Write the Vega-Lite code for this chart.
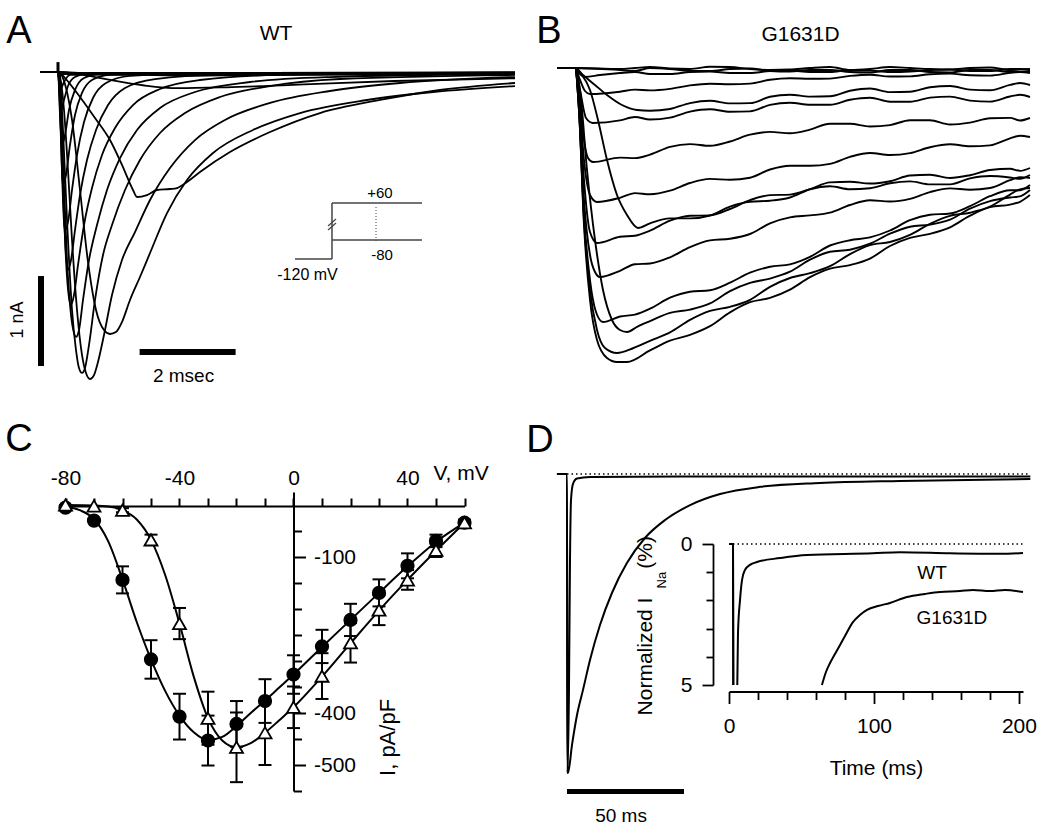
{
"$schema": "https://vega.github.io/schema/vega-lite/v6.json",
"width": 1050, "height": 831, "autosize": {"type": "none"}, "padding": 0, "background": "white",
"config": {"view": {"stroke": null}, "axis": {"grid": false, "labelFont": "Liberation Sans", "titleFont": "Liberation Sans", "labelColor": "black", "titleColor": "black", "domainColor": "black", "tickColor": "black"}, "text": {"font": "Liberation Sans", "color": "black"}},
"datasets": {
"wt": [
{"v":60,"t":-0.375,"I":0},{"v":60,"t":0,"I":0},{"v":60,"t":0.042,"I":-0.044},{"v":60,"t":0.104,"I":-0.022},{"v":60,"t":9.521,"I":-0.006},
{"v":50,"t":-0.375,"I":0},{"v":50,"t":0,"I":0},{"v":50,"t":0.031,"I":-0.144},{"v":50,"t":0.0625,"I":-0.178},{"v":50,"t":0.125,"I":-0.111},{"v":50,"t":0.25,"I":-0.033},{"v":50,"t":9.521,"I":-0.006},
{"v":40,"t":-0.375,"I":0},{"v":40,"t":0,"I":0},{"v":40,"t":0.042,"I":-0.311},{"v":40,"t":0.0625,"I":-0.422},{"v":40,"t":0.125,"I":-0.311},{"v":40,"t":0.208,"I":-0.156},{"v":40,"t":0.354,"I":-0.056},{"v":40,"t":0.667,"I":-0.011},{"v":40,"t":9.521,"I":-0.006},
{"v":30,"t":-0.375,"I":0},{"v":30,"t":0,"I":0},{"v":30,"t":0.042,"I":-0.478},{"v":30,"t":0.083,"I":-0.811},{"v":30,"t":0.146,"I":-0.7},{"v":30,"t":0.229,"I":-0.422},{"v":30,"t":0.354,"I":-0.2},{"v":30,"t":0.542,"I":-0.067},{"v":30,"t":0.875,"I":-0.022},{"v":30,"t":9.521,"I":-0.006},
{"v":20,"t":-0.375,"I":0},{"v":20,"t":0,"I":0},{"v":20,"t":0.042,"I":-0.422},{"v":20,"t":0.083,"I":-1.089},{"v":20,"t":0.104,"I":-1.256},{"v":20,"t":0.167,"I":-1.144},{"v":20,"t":0.25,"I":-0.811},{"v":20,"t":0.354,"I":-0.478},{"v":20,"t":0.5,"I":-0.233},{"v":20,"t":0.708,"I":-0.089},{"v":20,"t":1.083,"I":-0.033},{"v":20,"t":2.958,"I":-0.011},{"v":20,"t":9.521,"I":-0.006},
{"v":10,"t":-0.375,"I":0},{"v":10,"t":0,"I":0},{"v":10,"t":0.042,"I":-0.311},{"v":10,"t":0.083,"I":-1.089},{"v":10,"t":0.125,"I":-1.667},{"v":10,"t":0.146,"I":-1.756},{"v":10,"t":0.208,"I":-1.667},{"v":10,"t":0.292,"I":-1.311},{"v":10,"t":0.396,"I":-0.922},{"v":10,"t":0.542,"I":-0.556},{"v":10,"t":0.729,"I":-0.289},{"v":10,"t":1.0,"I":-0.122},{"v":10,"t":1.5,"I":-0.044},{"v":10,"t":2.958,"I":-0.011},{"v":10,"t":9.521,"I":-0.006},
{"v":0,"t":-0.375,"I":0},{"v":0,"t":0,"I":0},{"v":0,"t":0.042,"I":-0.256},{"v":0,"t":0.104,"I":-1.311},{"v":0,"t":0.167,"I":-2.033},{"v":0,"t":0.208,"I":-2.2},{"v":0,"t":0.271,"I":-2.089},{"v":0,"t":0.354,"I":-1.756},{"v":0,"t":0.458,"I":-1.367},{"v":0,"t":0.604,"I":-0.978},{"v":0,"t":0.792,"I":-0.644},{"v":0,"t":1.042,"I":-0.367},{"v":0,"t":1.396,"I":-0.178},{"v":0,"t":2.021,"I":-0.078},{"v":0,"t":3.375,"I":-0.033},{"v":0,"t":9.521,"I":-0.011},
{"v":-10,"t":-0.375,"I":0},{"v":-10,"t":0,"I":0},{"v":-10,"t":0.042,"I":-0.2},{"v":-10,"t":0.104,"I":-1.2},{"v":-10,"t":0.167,"I":-2.089},{"v":-10,"t":0.229,"I":-2.511},{"v":-10,"t":0.271,"I":-2.589},{"v":-10,"t":0.333,"I":-2.478},{"v":-10,"t":0.417,"I":-2.144},{"v":-10,"t":0.542,"I":-1.7},{"v":-10,"t":0.708,"I":-1.289},{"v":-10,"t":0.917,"I":-0.922},{"v":-10,"t":1.1875,"I":-0.622},{"v":-10,"t":1.5625,"I":-0.367},{"v":-10,"t":2.125,"I":-0.189},{"v":-10,"t":2.958,"I":-0.089},{"v":-10,"t":4.625,"I":-0.033},{"v":-10,"t":9.521,"I":-0.011},
{"v":-20,"t":-0.375,"I":0},{"v":-20,"t":0,"I":0},{"v":-20,"t":0.042,"I":-0.144},{"v":-20,"t":0.104,"I":-0.978},{"v":-20,"t":0.1875,"I":-2.089},{"v":-20,"t":0.271,"I":-2.7},{"v":-20,"t":0.333,"I":-2.9},{"v":-20,"t":0.375,"I":-2.944},{"v":-20,"t":0.4375,"I":-2.867},{"v":-20,"t":0.521,"I":-2.533},{"v":-20,"t":0.646,"I":-2.089},{"v":-20,"t":0.8125,"I":-1.7},{"v":-20,"t":1.021,"I":-1.311},{"v":-20,"t":1.292,"I":-0.956},{"v":-20,"t":1.646,"I":-0.644},{"v":-20,"t":2.125,"I":-0.4},{"v":-20,"t":2.854,"I":-0.222},{"v":-20,"t":4.0,"I":-0.111},{"v":-20,"t":5.667,"I":-0.056},{"v":-20,"t":9.521,"I":-0.022},
{"v":-30,"t":-0.375,"I":0},{"v":-30,"t":0,"I":0},{"v":-30,"t":0.042,"I":-0.089},{"v":-30,"t":0.104,"I":-0.644},{"v":-30,"t":0.1875,"I":-1.644},{"v":-30,"t":0.292,"I":-2.644},{"v":-30,"t":0.375,"I":-3.089},{"v":-30,"t":0.4375,"I":-3.289},{"v":-30,"t":0.5,"I":-3.344},{"v":-30,"t":0.5625,"I":-3.289},{"v":-30,"t":0.646,"I":-3.033},{"v":-30,"t":0.771,"I":-2.533},{"v":-30,"t":0.9375,"I":-2.033},{"v":-30,"t":1.125,"I":-1.7},{"v":-30,"t":1.396,"I":-1.311},{"v":-30,"t":1.708,"I":-0.978},{"v":-30,"t":2.125,"I":-0.678},{"v":-30,"t":2.646,"I":-0.456},{"v":-30,"t":3.375,"I":-0.278},{"v":-30,"t":4.417,"I":-0.156},{"v":-30,"t":5.875,"I":-0.078},{"v":-30,"t":9.521,"I":-0.033},
{"v":-40,"t":-0.375,"I":0},{"v":-40,"t":0,"I":0},{"v":-40,"t":0.0625,"I":-0.111},{"v":-40,"t":0.125,"I":-0.422},{"v":-40,"t":0.208,"I":-1.089},{"v":-40,"t":0.292,"I":-1.867},{"v":-40,"t":0.396,"I":-2.644},{"v":-40,"t":0.5,"I":-3.144},{"v":-40,"t":0.583,"I":-3.344},{"v":-40,"t":0.667,"I":-3.411},{"v":-40,"t":0.75,"I":-3.367},{"v":-40,"t":0.833,"I":-3.222},{"v":-40,"t":0.958,"I":-2.922},{"v":-40,"t":1.125,"I":-2.478},{"v":-40,"t":1.333,"I":-2.089},{"v":-40,"t":1.604,"I":-1.778},{"v":-40,"t":1.917,"I":-1.422},{"v":-40,"t":2.333,"I":-1.067},{"v":-40,"t":2.854,"I":-0.756},{"v":-40,"t":3.479,"I":-0.533},{"v":-40,"t":4.417,"I":-0.344},{"v":-40,"t":5.667,"I":-0.211},{"v":-40,"t":7.125,"I":-0.122},{"v":-40,"t":9.521,"I":-0.056},
{"v":-50,"t":-0.375,"I":0},{"v":-50,"t":0,"I":0},{"v":-50,"t":0.083,"I":-0.044},{"v":-50,"t":0.167,"I":-0.178},{"v":-50,"t":0.292,"I":-0.533},{"v":-50,"t":0.458,"I":-1.311},{"v":-50,"t":0.625,"I":-2.111},{"v":-50,"t":0.792,"I":-2.644},{"v":-50,"t":0.958,"I":-2.867},{"v":-50,"t":1.083,"I":-2.911},{"v":-50,"t":1.208,"I":-2.889},{"v":-50,"t":1.333,"I":-2.778},{"v":-50,"t":1.5,"I":-2.533},{"v":-50,"t":1.708,"I":-2.278},{"v":-50,"t":1.917,"I":-2.011},{"v":-50,"t":2.271,"I":-1.567},{"v":-50,"t":2.6875,"I":-1.2},{"v":-50,"t":3.229,"I":-0.9},{"v":-50,"t":4.0625,"I":-0.644},{"v":-50,"t":5.042,"I":-0.456},{"v":-50,"t":6.4375,"I":-0.311},{"v":-50,"t":7.8125,"I":-0.222},{"v":-50,"t":9.521,"I":-0.156},
{"v":-60,"t":-0.375,"I":0},{"v":-60,"t":0,"I":0},{"v":-60,"t":0.146,"I":-0.067},{"v":-60,"t":0.396,"I":-0.233},{"v":-60,"t":0.771,"I":-0.511},{"v":-60,"t":1.083,"I":-0.756},{"v":-60,"t":1.333,"I":-1.033},{"v":-60,"t":1.5625,"I":-1.311},{"v":-60,"t":1.646,"I":-1.389},{"v":-60,"t":1.854,"I":-1.367},{"v":-60,"t":2.0625,"I":-1.311},{"v":-60,"t":2.333,"I":-1.3},{"v":-60,"t":2.479,"I":-1.289},{"v":-60,"t":2.6875,"I":-1.222},{"v":-60,"t":2.958,"I":-1.111},{"v":-60,"t":3.583,"I":-0.889},{"v":-60,"t":4.417,"I":-0.667},{"v":-60,"t":5.458,"I":-0.456},{"v":-60,"t":6.708,"I":-0.311},{"v":-60,"t":7.958,"I":-0.2},{"v":-60,"t":9.521,"I":-0.122},
{"v":-70,"t":-0.375,"I":0},{"v":-70,"t":0,"I":0},{"v":-70,"t":0.5,"I":-0.03},{"v":-70,"t":1.0,"I":-0.08},{"v":-70,"t":1.8,"I":-0.15},{"v":-70,"t":2.5,"I":-0.18},{"v":-70,"t":3.5,"I":-0.17},{"v":-70,"t":5.0,"I":-0.14},{"v":-70,"t":7.0,"I":-0.1},{"v":-70,"t":9.521,"I":-0.07},
{"v":-80,"t":-0.375,"I":0},{"v":-80,"t":0,"I":0},{"v":-80,"t":0.5,"I":-0.01},{"v":-80,"t":1.5,"I":-0.03},{"v":-80,"t":3.0,"I":-0.04},{"v":-80,"t":5.0,"I":-0.03},{"v":-80,"t":9.521,"I":-0.02}
],
"mut": [
{"v":60,"t":-0.36,"I":0},{"v":60,"t":0,"I":0},{"v":60,"t":0.9,"I":-0.01},{"v":60,"t":1.5,"I":0.01},{"v":60,"t":2.3,"I":-0.01},{"v":60,"t":3.1,"I":0.01},{"v":60,"t":3.9,"I":-0.02},{"v":60,"t":4.7,"I":0},{"v":60,"t":5.5,"I":-0.02},{"v":60,"t":6.3,"I":0.01},{"v":60,"t":7.1,"I":-0.01},{"v":60,"t":7.9,"I":0},{"v":60,"t":8.7,"I":-0.02},{"v":60,"t":9.1,"I":-0.01},
{"v":60,"t":1.2,"I":0},{"v":60,"t":1.9,"I":-0.005},{"v":60,"t":2.7,"I":0.012},{"v":60,"t":3.5,"I":-0.01},{"v":60,"t":4.3,"I":-0.015},{"v":60,"t":5.1,"I":0.01},{"v":60,"t":5.9,"I":-0.01},{"v":60,"t":6.7,"I":0},{"v":60,"t":7.5,"I":-0.015},{"v":60,"t":8.3,"I":0.005},{"v":60,"t":8.9,"I":-0.015},
{"v":-80,"t":-0.36,"I":0},{"v":-80,"t":0,"I":0},{"v":-80,"t":0.9,"I":-0.02},{"v":-80,"t":1.5,"I":0},{"v":-80,"t":2.3,"I":-0.03},{"v":-80,"t":3.1,"I":-0.01},{"v":-80,"t":3.9,"I":-0.03},{"v":-80,"t":4.7,"I":-0.02},{"v":-80,"t":5.5,"I":-0.04},{"v":-80,"t":6.3,"I":-0.02},{"v":-80,"t":7.1,"I":-0.04},{"v":-80,"t":7.9,"I":-0.02},{"v":-80,"t":8.7,"I":-0.04},{"v":-80,"t":9.1,"I":-0.03},
{"v":-80,"t":1.2,"I":-0.03},{"v":-80,"t":1.9,"I":-0.01},{"v":-80,"t":2.7,"I":-0.03},{"v":-80,"t":3.5,"I":-0.005},{"v":-80,"t":4.3,"I":-0.035},{"v":-80,"t":5.1,"I":-0.02},{"v":-80,"t":5.9,"I":-0.045},{"v":-80,"t":6.7,"I":-0.02},{"v":-80,"t":7.5,"I":-0.045},{"v":-80,"t":8.3,"I":-0.02},{"v":-80,"t":8.9,"I":-0.04},
{"v":50,"t":-0.36,"I":0},{"v":50,"t":0,"I":0},{"v":50,"t":0.1,"I":-0.06},{"v":50,"t":0.2,"I":-0.09},{"v":50,"t":0.5,"I":-0.07},{"v":50,"t":0.9,"I":-0.05},{"v":50,"t":1.5,"I":-0.06},{"v":50,"t":2.3,"I":-0.04},{"v":50,"t":3.1,"I":-0.05},{"v":50,"t":3.9,"I":-0.03},{"v":50,"t":4.7,"I":-0.04},{"v":50,"t":5.5,"I":-0.02},{"v":50,"t":6.3,"I":-0.04},{"v":50,"t":7.1,"I":-0.02},{"v":50,"t":7.9,"I":-0.03},{"v":50,"t":8.7,"I":-0.01},{"v":50,"t":9.1,"I":-0.02},
{"v":50,"t":1.2,"I":-0.04},{"v":50,"t":1.9,"I":-0.06},{"v":50,"t":2.7,"I":-0.035},{"v":50,"t":3.5,"I":-0.05},{"v":50,"t":4.3,"I":-0.025},{"v":50,"t":5.1,"I":-0.04},{"v":50,"t":5.9,"I":-0.025},{"v":50,"t":6.7,"I":-0.035},{"v":50,"t":7.5,"I":-0.015},{"v":50,"t":8.3,"I":-0.03},{"v":50,"t":8.9,"I":-0.01},
{"v":40,"t":-0.36,"I":0},{"v":40,"t":0,"I":0},{"v":40,"t":0.1,"I":-0.12},{"v":40,"t":0.2,"I":-0.23},{"v":40,"t":0.3,"I":-0.26},{"v":40,"t":0.9,"I":-0.237},{"v":40,"t":1.5,"I":-0.224},{"v":40,"t":2.3,"I":-0.174},{"v":40,"t":3.1,"I":-0.163},{"v":40,"t":3.9,"I":-0.118},{"v":40,"t":4.7,"I":-0.108},{"v":40,"t":5.5,"I":-0.079},{"v":40,"t":6.3,"I":-0.085},{"v":40,"t":7.1,"I":-0.062},{"v":40,"t":7.9,"I":-0.073},{"v":40,"t":8.7,"I":-0.049},{"v":40,"t":9.1,"I":-0.05},
{"v":40,"t":1.2,"I":-0.216},{"v":40,"t":1.9,"I":-0.209},{"v":40,"t":2.7,"I":-0.157},{"v":40,"t":3.5,"I":-0.156},{"v":40,"t":4.3,"I":-0.103},{"v":40,"t":5.1,"I":-0.106},{"v":40,"t":5.9,"I":-0.067},{"v":40,"t":6.7,"I":-0.084},{"v":40,"t":7.5,"I":-0.056},{"v":40,"t":8.3,"I":-0.076},{"v":40,"t":8.9,"I":-0.04},
{"v":-70,"t":-0.36,"I":0},{"v":-70,"t":0,"I":0},{"v":-70,"t":0.16,"I":-0.07},{"v":-70,"t":0.4,"I":-0.17},{"v":-70,"t":0.64,"I":-0.27},{"v":-70,"t":0.94,"I":-0.37},{"v":-70,"t":1.24,"I":-0.42},{"v":-70,"t":1.5,"I":-0.428},{"v":-70,"t":2.3,"I":-0.351},{"v":-70,"t":3.1,"I":-0.354},{"v":-70,"t":3.9,"I":-0.288},{"v":-70,"t":4.7,"I":-0.286},{"v":-70,"t":5.5,"I":-0.228},{"v":-70,"t":6.3,"I":-0.241},{"v":-70,"t":7.1,"I":-0.193},{"v":-70,"t":7.9,"I":-0.216},{"v":-70,"t":8.7,"I":-0.169},{"v":-70,"t":9.1,"I":-0.17},
{"v":-70,"t":1.9,"I":-0.41},{"v":-70,"t":2.7,"I":-0.328},{"v":-70,"t":3.5,"I":-0.351},{"v":-70,"t":4.3,"I":-0.267},{"v":-70,"t":5.1,"I":-0.282},{"v":-70,"t":5.9,"I":-0.205},{"v":-70,"t":6.7,"I":-0.237},{"v":-70,"t":7.5,"I":-0.18},{"v":-70,"t":8.3,"I":-0.223},{"v":-70,"t":8.9,"I":-0.15},
{"v":30,"t":-0.36,"I":0},{"v":30,"t":0,"I":0},{"v":30,"t":0.1,"I":-0.22},{"v":30,"t":0.22,"I":-0.5},{"v":30,"t":0.36,"I":-0.55},{"v":30,"t":0.9,"I":-0.524},{"v":30,"t":1.5,"I":-0.515},{"v":30,"t":2.3,"I":-0.436},{"v":30,"t":3.1,"I":-0.438},{"v":30,"t":3.9,"I":-0.369},{"v":30,"t":4.7,"I":-0.367},{"v":30,"t":5.5,"I":-0.317},{"v":30,"t":6.3,"I":-0.337},{"v":30,"t":7.1,"I":-0.296},{"v":30,"t":7.9,"I":-0.326},{"v":30,"t":8.7,"I":-0.285},{"v":30,"t":9.1,"I":-0.29},
{"v":30,"t":1.2,"I":-0.49},{"v":30,"t":1.9,"I":-0.496},{"v":30,"t":2.7,"I":-0.412},{"v":30,"t":3.5,"I":-0.434},{"v":30,"t":4.3,"I":-0.348},{"v":30,"t":5.1,"I":-0.367},{"v":30,"t":5.9,"I":-0.297},{"v":30,"t":6.7,"I":-0.337},{"v":30,"t":7.5,"I":-0.286},{"v":30,"t":8.3,"I":-0.336},{"v":30,"t":8.9,"I":-0.268},
{"v":20,"t":-0.36,"I":0},{"v":20,"t":0,"I":0},{"v":20,"t":0.08,"I":-0.22},{"v":20,"t":0.18,"I":-0.72},{"v":20,"t":0.26,"I":-0.9},{"v":20,"t":0.36,"I":-0.94},{"v":20,"t":0.9,"I":-0.896},{"v":20,"t":1.5,"I":-0.866},{"v":20,"t":2.3,"I":-0.761},{"v":20,"t":3.1,"I":-0.735},{"v":20,"t":3.9,"I":-0.639},{"v":20,"t":4.7,"I":-0.616},{"v":20,"t":5.5,"I":-0.558},{"v":20,"t":6.3,"I":-0.571},{"v":20,"t":7.1,"I":-0.523},{"v":20,"t":7.9,"I":-0.546},{"v":20,"t":8.7,"I":-0.499},{"v":20,"t":9.1,"I":-0.5},
{"v":20,"t":1.2,"I":-0.901},{"v":20,"t":1.9,"I":-0.789},{"v":20,"t":2.7,"I":-0.778},{"v":20,"t":3.5,"I":-0.667},{"v":20,"t":4.3,"I":-0.653},{"v":20,"t":5.1,"I":-0.557},{"v":20,"t":5.9,"I":-0.585},{"v":20,"t":6.7,"I":-0.522},{"v":20,"t":7.5,"I":-0.565},{"v":20,"t":8.3,"I":-0.503},{"v":20,"t":8.9,"I":-0.525},
{"v":10,"t":-0.36,"I":0},{"v":10,"t":0,"I":0},{"v":10,"t":0.08,"I":-0.27},{"v":10,"t":0.18,"I":-0.92},{"v":10,"t":0.3,"I":-1.27},{"v":10,"t":0.44,"I":-1.34},{"v":10,"t":0.9,"I":-1.298},{"v":10,"t":1.5,"I":-1.263},{"v":10,"t":2.3,"I":-1.15},{"v":10,"t":3.1,"I":-1.118},{"v":10,"t":3.9,"I":-1.015},{"v":10,"t":4.7,"I":-0.978},{"v":10,"t":5.5,"I":-0.889},{"v":10,"t":6.3,"I":-0.87},{"v":10,"t":7.1,"I":-0.792},{"v":10,"t":7.9,"I":-0.783},{"v":10,"t":8.7,"I":-0.704},{"v":10,"t":9.1,"I":-0.69},
{"v":10,"t":1.2,"I":-1.251},{"v":10,"t":1.9,"I":-1.227},{"v":10,"t":2.7,"I":-1.109},{"v":10,"t":3.5,"I":-1.097},{"v":10,"t":4.3,"I":-0.977},{"v":10,"t":5.1,"I":-0.959},{"v":10,"t":5.9,"I":-0.85},{"v":10,"t":6.7,"I":-0.851},{"v":10,"t":7.5,"I":-0.763},{"v":10,"t":8.3,"I":-0.774},{"v":10,"t":8.9,"I":-0.677},
{"v":0,"t":-0.36,"I":0},{"v":0,"t":0,"I":0},{"v":0,"t":0.08,"I":-0.32},{"v":0,"t":0.18,"I":-1.12},{"v":0,"t":0.3,"I":-1.64},{"v":0,"t":0.44,"I":-1.75},{"v":0,"t":0.9,"I":-1.688},{"v":0,"t":1.5,"I":-1.626},{"v":0,"t":2.3,"I":-1.478},{"v":0,"t":3.1,"I":-1.41},{"v":0,"t":3.9,"I":-1.271},{"v":0,"t":4.7,"I":-1.211},{"v":0,"t":5.5,"I":-1.137},{"v":0,"t":6.3,"I":-1.132},{"v":0,"t":7.1,"I":-1.067},{"v":0,"t":7.9,"I":-1.072},{"v":0,"t":8.7,"I":-1.007},{"v":0,"t":9.1,"I":-1.0},
{"v":0,"t":1.2,"I":-1.677},{"v":0,"t":1.9,"I":-1.527},{"v":0,"t":2.7,"I":-1.474},{"v":0,"t":3.5,"I":-1.321},{"v":0,"t":4.3,"I":-1.266},{"v":0,"t":5.1,"I":-1.144},{"v":0,"t":5.9,"I":-1.155},{"v":0,"t":6.7,"I":-1.075},{"v":0,"t":7.5,"I":-1.1},{"v":0,"t":8.3,"I":-1.02},{"v":0,"t":8.9,"I":-1.029},
{"v":-60,"t":-0.36,"I":0},{"v":-60,"t":0,"I":0},{"v":-60,"t":0.14,"I":-0.07},{"v":-60,"t":0.3,"I":-0.22},{"v":-60,"t":0.46,"I":-0.52},{"v":-60,"t":0.64,"I":-0.92},{"v":-60,"t":0.84,"I":-1.27},{"v":-60,"t":1.04,"I":-1.47},{"v":-60,"t":1.26,"I":-1.6},{"v":-60,"t":1.5,"I":-1.553},{"v":-60,"t":2.3,"I":-1.504},{"v":-60,"t":3.1,"I":-1.386},{"v":-60,"t":3.9,"I":-1.327},{"v":-60,"t":4.7,"I":-1.213},{"v":-60,"t":5.5,"I":-1.213},{"v":-60,"t":6.3,"I":-1.153},{"v":-60,"t":7.1,"I":-1.164},{"v":-60,"t":7.9,"I":-1.104},{"v":-60,"t":8.7,"I":-1.095},{"v":-60,"t":9.1,"I":-1.07},
{"v":-60,"t":1.9,"I":-1.504},{"v":-60,"t":2.7,"I":-1.475},{"v":-60,"t":3.5,"I":-1.337},{"v":-60,"t":4.3,"I":-1.295},{"v":-60,"t":5.1,"I":-1.183},{"v":-60,"t":5.9,"I":-1.203},{"v":-60,"t":6.7,"I":-1.134},{"v":-60,"t":7.5,"I":-1.164},{"v":-60,"t":8.3,"I":-1.08},{"v":-60,"t":8.9,"I":-1.108},
{"v":-10,"t":-0.36,"I":0},{"v":-10,"t":0,"I":0},{"v":-10,"t":0.08,"I":-0.37},{"v":-10,"t":0.18,"I":-1.32},{"v":-10,"t":0.3,"I":-1.87},{"v":-10,"t":0.4,"I":-2.04},{"v":-10,"t":0.5,"I":-2.09},{"v":-10,"t":0.9,"I":-2.028},{"v":-10,"t":1.5,"I":-1.955},{"v":-10,"t":2.3,"I":-1.791},{"v":-10,"t":3.1,"I":-1.707},{"v":-10,"t":3.9,"I":-1.553},{"v":-10,"t":4.7,"I":-1.474},{"v":-10,"t":5.5,"I":-1.37},{"v":-10,"t":6.3,"I":-1.335},{"v":-10,"t":7.1,"I":-1.241},{"v":-10,"t":7.9,"I":-1.217},{"v":-10,"t":8.7,"I":-1.122},{"v":-10,"t":9.1,"I":-1.1},
{"v":-10,"t":1.2,"I":-1.962},{"v":-10,"t":1.9,"I":-1.893},{"v":-10,"t":2.7,"I":-1.724},{"v":-10,"t":3.5,"I":-1.66},{"v":-10,"t":4.3,"I":-1.494},{"v":-10,"t":5.1,"I":-1.447},{"v":-10,"t":5.9,"I":-1.323},{"v":-10,"t":6.7,"I":-1.308},{"v":-10,"t":7.5,"I":-1.204},{"v":-10,"t":8.3,"I":-1.2},{"v":-10,"t":8.9,"I":-1.091},
{"v":-20,"t":-0.36,"I":0},{"v":-20,"t":0,"I":0},{"v":-20,"t":0.08,"I":-0.42},{"v":-20,"t":0.18,"I":-1.47},{"v":-20,"t":0.3,"I":-2.12},{"v":-20,"t":0.42,"I":-2.44},{"v":-20,"t":0.56,"I":-2.54},{"v":-20,"t":0.9,"I":-2.485},{"v":-20,"t":1.5,"I":-2.407},{"v":-20,"t":2.3,"I":-2.237},{"v":-20,"t":3.1,"I":-2.147},{"v":-20,"t":3.9,"I":-1.987},{"v":-20,"t":4.7,"I":-1.888},{"v":-20,"t":5.5,"I":-1.722},{"v":-20,"t":6.3,"I":-1.625},{"v":-20,"t":7.1,"I":-1.468},{"v":-20,"t":7.9,"I":-1.381},{"v":-20,"t":8.7,"I":-1.223},{"v":-20,"t":9.1,"I":-1.17},
{"v":-20,"t":1.2,"I":-2.466},{"v":-20,"t":1.9,"I":-2.297},{"v":-20,"t":2.7,"I":-2.222},{"v":-20,"t":3.5,"I":-2.047},{"v":-20,"t":4.3,"I":-1.963},{"v":-20,"t":5.1,"I":-1.775},{"v":-20,"t":5.9,"I":-1.694},{"v":-20,"t":6.7,"I":-1.522},{"v":-20,"t":7.5,"I":-1.455},{"v":-20,"t":8.3,"I":-1.282},{"v":-20,"t":8.9,"I":-1.222},
{"v":-50,"t":-0.36,"I":0},{"v":-50,"t":0,"I":0},{"v":-50,"t":0.1,"I":-0.22},{"v":-50,"t":0.24,"I":-1.02},{"v":-50,"t":0.4,"I":-1.72},{"v":-50,"t":0.56,"I":-2.22},{"v":-50,"t":0.74,"I":-2.52},{"v":-50,"t":0.9,"I":-2.62},{"v":-50,"t":1.04,"I":-2.64},{"v":-50,"t":1.5,"I":-2.531},{"v":-50,"t":2.3,"I":-2.416},{"v":-50,"t":3.1,"I":-2.231},{"v":-50,"t":3.9,"I":-2.106},{"v":-50,"t":4.7,"I":-1.917},{"v":-50,"t":5.5,"I":-1.817},{"v":-50,"t":6.3,"I":-1.657},{"v":-50,"t":7.1,"I":-1.566},{"v":-50,"t":7.9,"I":-1.406},{"v":-50,"t":8.7,"I":-1.295},{"v":-50,"t":9.1,"I":-1.22},
{"v":-50,"t":1.25,"I":-2.586},{"v":-50,"t":1.9,"I":-2.449},{"v":-50,"t":2.7,"I":-2.354},{"v":-50,"t":3.5,"I":-2.149},{"v":-50,"t":4.3,"I":-2.037},{"v":-50,"t":5.1,"I":-1.837},{"v":-50,"t":5.9,"I":-1.757},{"v":-50,"t":6.7,"I":-1.587},{"v":-50,"t":7.5,"I":-1.516},{"v":-50,"t":8.3,"I":-1.331},{"v":-50,"t":8.9,"I":-1.283},
{"v":-30,"t":-0.36,"I":0},{"v":-30,"t":0,"I":0},{"v":-30,"t":0.08,"I":-0.42},{"v":-30,"t":0.18,"I":-1.52},{"v":-30,"t":0.3,"I":-2.22},{"v":-30,"t":0.44,"I":-2.62},{"v":-30,"t":0.6,"I":-2.8},{"v":-30,"t":0.84,"I":-2.85},{"v":-30,"t":1.5,"I":-2.729},{"v":-30,"t":2.3,"I":-2.519},{"v":-30,"t":3.1,"I":-2.388},{"v":-30,"t":3.9,"I":-2.188},{"v":-30,"t":4.7,"I":-2.052},{"v":-30,"t":5.5,"I":-1.861},{"v":-30,"t":6.3,"I":-1.74},{"v":-30,"t":7.1,"I":-1.558},{"v":-30,"t":7.9,"I":-1.447},{"v":-30,"t":8.7,"I":-1.266},{"v":-30,"t":9.1,"I":-1.2},
{"v":-30,"t":1.17,"I":-2.8},{"v":-30,"t":1.9,"I":-2.644},{"v":-30,"t":2.7,"I":-2.429},{"v":-30,"t":3.5,"I":-2.318},{"v":-30,"t":4.3,"I":-2.1},{"v":-30,"t":5.1,"I":-1.982},{"v":-30,"t":5.9,"I":-1.771},{"v":-30,"t":6.7,"I":-1.669},{"v":-30,"t":7.5,"I":-1.478},{"v":-30,"t":8.3,"I":-1.387},{"v":-30,"t":8.9,"I":-1.213},
{"v":-40,"t":-0.36,"I":0},{"v":-40,"t":0,"I":0},{"v":-40,"t":0.08,"I":-0.42},{"v":-40,"t":0.18,"I":-1.57},{"v":-40,"t":0.3,"I":-2.32},{"v":-40,"t":0.44,"I":-2.72},{"v":-40,"t":0.64,"I":-2.9},{"v":-40,"t":0.84,"I":-2.94},{"v":-40,"t":1.04,"I":-2.94},{"v":-40,"t":1.5,"I":-2.824},{"v":-40,"t":2.3,"I":-2.669},{"v":-40,"t":3.1,"I":-2.444},{"v":-40,"t":3.9,"I":-2.299},{"v":-40,"t":4.7,"I":-2.092},{"v":-40,"t":5.5,"I":-1.971},{"v":-40,"t":6.3,"I":-1.78},{"v":-40,"t":7.1,"I":-1.658},{"v":-40,"t":7.9,"I":-1.477},{"v":-40,"t":8.7,"I":-1.366},{"v":-40,"t":9.1,"I":-1.27},
{"v":-40,"t":1.9,"I":-2.727},{"v":-40,"t":2.7,"I":-2.582},{"v":-40,"t":3.5,"I":-2.342},{"v":-40,"t":4.3,"I":-2.216},{"v":-40,"t":5.1,"I":-2.007},{"v":-40,"t":5.9,"I":-1.906},{"v":-40,"t":6.7,"I":-1.699},{"v":-40,"t":7.5,"I":-1.593},{"v":-40,"t":8.3,"I":-1.392},{"v":-40,"t":8.9,"I":-1.338}
],
"iv": [
{"g":"filled","V":-80,"I":-5,"lo":-5,"hi":-5},{"g":"filled","V":-70,"I":-30,"lo":-30,"hi":-30},{"g":"filled","V":-60,"I":-144,"lo":-170,"hi":-118},{"g":"filled","V":-50,"I":-297,"lo":-334,"hi":-260},{"g":"filled","V":-40,"I":-407,"lo":-451,"hi":-363},{"g":"filled","V":-30,"I":-453,"lo":-501,"hi":-405},{"g":"filled","V":-20,"I":-421,"lo":-465,"hi":-377},{"g":"filled","V":-10,"I":-377,"lo":-419,"hi":-335},{"g":"filled","V":0,"I":-326,"lo":-363,"hi":-289},{"g":"filled","V":10,"I":-272,"lo":-304,"hi":-240},{"g":"filled","V":20,"I":-221,"lo":-252,"hi":-190},{"g":"filled","V":30,"I":-169,"lo":-195,"hi":-143},{"g":"filled","V":40,"I":-117,"lo":-141,"hi":-93},{"g":"filled","V":50,"I":-69,"lo":-81,"hi":-57},{"g":"filled","V":60,"I":-34,"lo":-40,"hi":-28},
{"g":"open","V":-80,"I":0,"lo":0,"hi":0},{"g":"open","V":-70,"I":-2,"lo":-2,"hi":-2},{"g":"open","V":-60,"I":-10,"lo":-14,"hi":-6},{"g":"open","V":-50,"I":-67,"lo":-77,"hi":-57},{"g":"open","V":-40,"I":-228,"lo":-258,"hi":-198},{"g":"open","V":-30,"I":-410,"lo":-461,"hi":-359},{"g":"open","V":-20,"I":-466,"lo":-533,"hi":-399},{"g":"open","V":-10,"I":-438,"lo":-500,"hi":-376},{"g":"open","V":0,"I":-389,"lo":-429,"hi":-349},{"g":"open","V":10,"I":-329,"lo":-373,"hi":-285},{"g":"open","V":20,"I":-265,"lo":-303,"hi":-227},{"g":"open","V":30,"I":-202,"lo":-231,"hi":-173},{"g":"open","V":40,"I":-144,"lo":-163,"hi":-125},{"g":"open","V":50,"I":-87,"lo":-100,"hi":-74},{"g":"open","V":60,"I":-34,"lo":-39,"hi":-29}
],
"fit": [
{"g":"filled","V":-80,"I":-3},{"g":"filled","V":-75,"I":-10},{"g":"filled","V":-70,"I":-27},{"g":"filled","V":-65,"I":-70},{"g":"filled","V":-60,"I":-143},{"g":"filled","V":-55,"I":-225},{"g":"filled","V":-50,"I":-297},{"g":"filled","V":-45,"I":-358},{"g":"filled","V":-40,"I":-405},{"g":"filled","V":-35,"I":-437},{"g":"filled","V":-30,"I":-452},{"g":"filled","V":-25,"I":-446},{"g":"filled","V":-20,"I":-425},{"g":"filled","V":-15,"I":-400},{"g":"filled","V":-10,"I":-376},{"g":"filled","V":-5,"I":-351},{"g":"filled","V":0,"I":-326},{"g":"filled","V":10,"I":-273},{"g":"filled","V":20,"I":-221},{"g":"filled","V":30,"I":-169},{"g":"filled","V":40,"I":-118},{"g":"filled","V":50,"I":-71},{"g":"filled","V":60,"I":-34},
{"g":"open","V":-80,"I":0},{"g":"open","V":-70,"I":-1},{"g":"open","V":-65,"I":-3},{"g":"open","V":-60,"I":-10},{"g":"open","V":-55,"I":-28},{"g":"open","V":-50,"I":-67},{"g":"open","V":-45,"I":-135},{"g":"open","V":-40,"I":-228},{"g":"open","V":-35,"I":-330},{"g":"open","V":-30,"I":-410},{"g":"open","V":-25,"I":-453},{"g":"open","V":-20,"I":-466},{"g":"open","V":-15,"I":-458},{"g":"open","V":-10,"I":-438},{"g":"open","V":-5,"I":-414},{"g":"open","V":0,"I":-389},{"g":"open","V":10,"I":-330},{"g":"open","V":20,"I":-266},{"g":"open","V":30,"I":-203},{"g":"open","V":40,"I":-144},{"g":"open","V":50,"I":-88},{"g":"open","V":60,"I":-34}
],
"dmain": [
{"g":"WT","t":-4.3,"I":0},{"g":"WT","t":0,"I":0},{"g":"WT","t":0.2,"I":-100},{"g":"WT","t":0.85,"I":-72},{"g":"WT","t":1.28,"I":-29},{"g":"WT","t":1.71,"I":-8.7},{"g":"WT","t":2.56,"I":-3.3},{"g":"WT","t":4.27,"I":-1.5},{"g":"WT","t":9.83,"I":-1.0},{"g":"WT","t":60,"I":-0.8},{"g":"WT","t":198,"I":-0.8},
{"g":"G1631D","t":-4.3,"I":0},{"g":"G1631D","t":0,"I":0},{"g":"G1631D","t":0.15,"I":-100},{"g":"G1631D","t":0.43,"I":-100},{"g":"G1631D","t":2.14,"I":-90.6},{"g":"G1631D","t":4.27,"I":-80.6},{"g":"G1631D","t":6.84,"I":-72.2},{"g":"G1631D","t":9.83,"I":-62.2},{"g":"G1631D","t":14.1,"I":-50.5},{"g":"G1631D","t":19.2,"I":-39.8},{"g":"G1631D","t":25.6,"I":-29.8},{"g":"G1631D","t":33.3,"I":-21.4},{"g":"G1631D","t":41.9,"I":-15.4},{"g":"G1631D","t":52.6,"I":-10.4},{"g":"G1631D","t":65.4,"I":-6.7},{"g":"G1631D","t":82.5,"I":-4.3},{"g":"G1631D","t":108.1,"I":-3.0},{"g":"G1631D","t":142.3,"I":-2.3},{"g":"G1631D","t":198,"I":-1.7}
],
"dinset": [
{"seg":"WT-a","t":0,"I":0},{"seg":"WT-a","t":2.76,"I":0},{"seg":"WT-a","t":2.97,"I":-5},
{"seg":"WT-b","t":5.72,"I":-5},{"seg":"WT-b","t":6.2,"I":-3.16},{"seg":"WT-b","t":7.59,"I":-1.99},{"seg":"WT-b","t":8.97,"I":-1.28},{"seg":"WT-b","t":11.0,"I":-0.92},{"seg":"WT-b","t":14.5,"I":-0.74},{"seg":"WT-b","t":19.3,"I":-0.64},{"seg":"WT-b","t":35.2,"I":-0.5},{"seg":"WT-b","t":53.8,"I":-0.39},{"seg":"WT-b","t":99.3,"I":-0.33},{"seg":"WT-b","t":117.9,"I":-0.29},{"seg":"WT-b","t":152.4,"I":-0.33},{"seg":"WT-b","t":186.9,"I":-0.35},{"seg":"WT-b","t":202.8,"I":-0.32},
{"seg":"G-a","t":0,"I":0},{"seg":"G-a","t":2.76,"I":0},{"seg":"G-a","t":2.97,"I":-5},
{"seg":"G-b","t":64.1,"I":-5},{"seg":"G-b","t":66.9,"I":-4.54},{"seg":"G-b","t":69.7,"I":-4.22},{"seg":"G-b","t":73.1,"I":-3.9},{"seg":"G-b","t":76.6,"I":-3.58},{"seg":"G-b","t":80,"I":-3.26},{"seg":"G-b","t":85.5,"I":-2.77},{"seg":"G-b","t":90.3,"I":-2.52},{"seg":"G-b","t":95.2,"I":-2.34},{"seg":"G-b","t":102.8,"I":-2.2},{"seg":"G-b","t":111,"I":-2.09},{"seg":"G-b","t":122.8,"I":-1.88},{"seg":"G-b","t":135.2,"I":-1.77},{"seg":"G-b","t":145.5,"I":-1.7},{"seg":"G-b","t":159.3,"I":-1.67},{"seg":"G-b","t":168.3,"I":-1.63},{"seg":"G-b","t":180,"I":-1.67},{"seg":"G-b","t":190.3,"I":-1.63},{"seg":"G-b","t":202.8,"I":-1.7}
]
},
"resolve": {"scale": {"x": "independent", "y": "independent"}, "axis": {"x": "independent", "y": "independent"}},
"layer": [
{"layer": [
 {"data": {"name": "wt"}, "mark": {"type": "line", "interpolate": "monotone", "stroke": "black", "strokeWidth": 1.8, "strokeJoin": "round"},
  "encoding": {"x": {"field": "t", "type": "quantitative", "scale": {"domain": [0, 10], "range": [58, 538], "nice": false, "zero": false}, "axis": null},
   "y": {"field": "I", "type": "quantitative", "scale": {"domain": [-3, 0], "range": [342, 72], "nice": false, "zero": false}, "axis": null},
   "detail": {"field": "v", "type": "nominal"}}},
 {"data": {"values": [{}]}, "mark": {"type": "rule", "stroke": "black", "strokeWidth": 3}, "encoding": {"x": {"datum": 0, "axis": null}, "y": {"datum": 0.11, "axis": null}, "y2": {"datum": 0}}},
 {"data": {"values": [{}]}, "mark": {"type": "rule", "stroke": "black", "strokeWidth": 6}, "encoding": {"x": {"datum": -0.354, "axis": null}, "y": {"datum": -2.267, "axis": null}, "y2": {"datum": -3.267}}},
 {"data": {"values": [{}]}, "mark": {"type": "rule", "stroke": "black", "strokeWidth": 6}, "encoding": {"x": {"datum": 1.7, "axis": null}, "x2": {"datum": 3.7}, "y": {"datum": -3.111, "axis": null}}},
 {"data": {"values": [{}]}, "mark": {"type": "rule", "stroke": "#444", "strokeWidth": 1.5}, "encoding": {"x": {"datum": 4.9375, "axis": null}, "x2": {"datum": 5.708}, "y": {"datum": -2.078, "axis": null}}},
 {"data": {"values": [{}]}, "mark": {"type": "rule", "stroke": "#444", "strokeWidth": 1.5}, "encoding": {"x": {"datum": 5.708, "axis": null}, "y": {"datum": -2.078, "axis": null}, "y2": {"datum": -1.456}}},
 {"data": {"values": [{}]}, "mark": {"type": "rule", "stroke": "#444", "strokeWidth": 1.5}, "encoding": {"x": {"datum": 5.708, "axis": null}, "x2": {"datum": 7.583}, "y": {"datum": -1.456, "axis": null}}},
 {"data": {"values": [{}]}, "mark": {"type": "rule", "stroke": "#444", "strokeWidth": 1.5}, "encoding": {"x": {"datum": 5.708, "axis": null}, "x2": {"datum": 7.583}, "y": {"datum": -1.867, "axis": null}}},
 {"data": {"values": [{}]}, "mark": {"type": "rule", "stroke": "#444", "strokeWidth": 1, "strokeDash": [1, 2]}, "encoding": {"x": {"datum": 6.625, "axis": null}, "y": {"datum": -1.5, "axis": null}, "y2": {"datum": -1.889}}},
 {"data": {"values": [{}]}, "mark": {"type": "rule", "stroke": "#444", "strokeWidth": 1.2}, "encoding": {"x": {"datum": 5.625, "axis": null}, "x2": {"datum": 5.792}, "y": {"datum": -1.711, "axis": null}, "y2": {"datum": -1.633}}},
 {"data": {"values": [{}]}, "mark": {"type": "rule", "stroke": "#444", "strokeWidth": 1.2}, "encoding": {"x": {"datum": 5.625, "axis": null}, "x2": {"datum": 5.792}, "y": {"datum": -1.756, "axis": null}, "y2": {"datum": -1.678}}},
 {"data": {"values": [{}]}, "mark": {"type": "text", "text": "A", "fontSize": 38, "align": "center", "baseline": "alphabetic"}, "encoding": {"x": {"datum": -0.8125, "axis": null}, "y": {"datum": 0.322, "axis": null}}},
 {"data": {"values": [{}]}, "mark": {"type": "text", "text": "WT", "fontSize": 21, "align": "center", "baseline": "alphabetic"}, "encoding": {"x": {"datum": 4.542, "axis": null}, "y": {"datum": 0.356, "axis": null}}},
 {"data": {"values": [{}]}, "mark": {"type": "text", "text": "1 nA", "fontSize": 18, "align": "center", "baseline": "middle", "angle": 270}, "encoding": {"x": {"datum": -0.833, "axis": null}, "y": {"datum": -2.756, "axis": null}}},
 {"data": {"values": [{}]}, "mark": {"type": "text", "text": "2 msec", "fontSize": 19, "align": "center", "baseline": "alphabetic"}, "encoding": {"x": {"datum": 2.615, "axis": null}, "y": {"datum": -3.444, "axis": null}}},
 {"data": {"values": [{}]}, "mark": {"type": "text", "text": "+60", "fontSize": 15, "align": "center", "baseline": "alphabetic"}, "encoding": {"x": {"datum": 6.708, "axis": null}, "y": {"datum": -1.4, "axis": null}}},
 {"data": {"values": [{}]}, "mark": {"type": "text", "text": "-80", "fontSize": 15, "align": "center", "baseline": "alphabetic"}, "encoding": {"x": {"datum": 6.75, "axis": null}, "y": {"datum": -2.089, "axis": null}}},
 {"data": {"values": [{}]}, "mark": {"type": "text", "text": "-120 mV", "fontSize": 16, "align": "center", "baseline": "alphabetic"}, "encoding": {"x": {"datum": 5.198, "axis": null}, "y": {"datum": -2.311, "axis": null}}}
]},
{"layer": [
 {"data": {"name": "mut"}, "mark": {"type": "line", "interpolate": "monotone", "stroke": "black", "strokeWidth": 1.9, "strokeJoin": "round"},
  "encoding": {"x": {"field": "t", "type": "quantitative", "scale": {"domain": [0, 9.1], "range": [575, 1030], "nice": false, "zero": false}, "axis": null},
   "y": {"field": "I", "type": "quantitative", "scale": {"domain": [-3, 0], "range": [368, 68], "nice": false, "zero": false}, "axis": null},
   "detail": {"field": "v", "type": "nominal"}}},
 {"data": {"values": [{}]}, "mark": {"type": "text", "text": "B", "fontSize": 38, "align": "center", "baseline": "alphabetic"}, "encoding": {"x": {"datum": -0.52, "axis": null}, "y": {"datum": 0.25, "axis": null}}},
 {"data": {"values": [{}]}, "mark": {"type": "text", "text": "G1631D", "fontSize": 21, "align": "center", "baseline": "alphabetic"}, "encoding": {"x": {"datum": 4.51, "axis": null}, "y": {"datum": 0.27, "axis": null}}}
]},
{"data": {"name": "fit"}, "mark": {"type": "line", "interpolate": "monotone", "stroke": "black", "strokeWidth": 2},
  "encoding": {"x": {"field": "V", "type": "quantitative", "scale": {"domain": [-80, 60], "range": [65.5, 464.5], "nice": false, "zero": false},
     "axis": {"orient": "top", "offset": -506, "values": [-80,-70,-60,-50,-40,-30,-20,-10,0,10,20,30,40,50,60], "labelExpr": "indexof([-80,-40,0,40], datum.value) >= 0 ? '' + datum.value : ''", "tickSize": 8, "tickWidth": 2, "domainWidth": 2, "labelFontSize": 21, "labelPadding": 10, "labelOverlap": false, "labelFlush": false, "title": null}},
   "y": {"field": "I", "type": "quantitative", "scale": {"domain": [-550, 25], "range": [791, 492], "nice": false, "zero": false},
     "axis": {"orient": "right", "offset": -756.5, "values": [-50,-100,-150,-200,-250,-300,-350,-400,-450,-500,-550], "labelExpr": "indexof([-100,-400,-500], datum.value) >= 0 ? '' + datum.value : ''", "tickSize": {"condition": {"test": "indexof([-100,-400,-500], datum.value) >= 0", "value": 12}, "value": 8}, "tickWidth": 2, "domainWidth": 2, "labelFontSize": 21, "labelPadding": 8, "labelOverlap": false, "title": null}},
   "detail": {"field": "g", "type": "nominal"}}},
{"layer": [
 {"data": {"name": "iv"}, "mark": {"type": "rule", "stroke": "black", "strokeWidth": 2}, "encoding": {"x": {"field": "V", "type": "quantitative", "scale": {"domain": [-80, 60], "range": [65.5, 464.5], "nice": false, "zero": false}, "axis": null}, "y": {"field": "lo", "type": "quantitative", "scale": {"domain": [-550, 25], "range": [791, 492], "nice": false, "zero": false}, "axis": null}, "y2": {"field": "hi"}}},
 {"data": {"name": "iv"}, "mark": {"type": "tick", "orient": "horizontal", "size": 13, "thickness": 2, "color": "black", "opacity": 1}, "encoding": {"x": {"field": "V", "type": "quantitative", "axis": null}, "y": {"field": "lo", "type": "quantitative", "axis": null}}},
 {"data": {"name": "iv"}, "mark": {"type": "tick", "orient": "horizontal", "size": 13, "thickness": 2, "color": "black", "opacity": 1}, "encoding": {"x": {"field": "V", "type": "quantitative", "axis": null}, "y": {"field": "hi", "type": "quantitative", "axis": null}}},
 {"data": {"name": "iv"}, "transform": [{"filter": "datum.g === 'filled'"}], "mark": {"type": "point", "shape": "circle", "filled": true, "fill": "black", "stroke": "black", "size": 150, "opacity": 1}, "encoding": {"x": {"field": "V", "type": "quantitative", "axis": null}, "y": {"field": "I", "type": "quantitative", "axis": null}}},
 {"data": {"name": "iv"}, "transform": [{"filter": "datum.g === 'open'"}], "mark": {"type": "point", "shape": "triangle-up", "filled": true, "fill": "white", "stroke": "black", "strokeWidth": 1.8, "size": 170, "opacity": 1}, "encoding": {"x": {"field": "V", "type": "quantitative", "axis": null}, "y": {"field": "I", "type": "quantitative", "axis": null}}},
 {"data": {"values": [{}]}, "mark": {"type": "text", "text": "C", "fontSize": 38, "align": "center", "baseline": "alphabetic"}, "encoding": {"x": {"datum": -96.3, "axis": null}, "y": {"datum": 103.8, "axis": null}}},
 {"data": {"values": [{}]}, "mark": {"type": "text", "text": "V, mV", "fontSize": 21, "align": "center", "baseline": "alphabetic"}, "encoding": {"x": {"datum": 58.8, "axis": null}, "y": {"datum": 48.1, "axis": null}}},
 {"data": {"values": [{}]}, "mark": {"type": "text", "text": "I, pA/pF", "fontSize": 22, "align": "center", "baseline": "middle", "angle": 270}, "encoding": {"x": {"datum": 33.2, "axis": null}, "y": {"datum": -447, "axis": null}}}
]},
{"layer": [
 {"data": {"name": "dmain"}, "mark": {"type": "line", "interpolate": "monotone", "stroke": "black", "strokeWidth": 2, "strokeJoin": "round"},
  "encoding": {"x": {"field": "t", "type": "quantitative", "scale": {"domain": [0, 200], "range": [567, 1035], "nice": false, "zero": false}, "axis": null},
   "y": {"field": "I", "type": "quantitative", "scale": {"domain": [-100, 0], "range": [773, 474], "nice": false, "zero": false}, "axis": null},
   "detail": {"field": "g", "type": "nominal"}}},
 {"data": {"values": [{}]}, "mark": {"type": "rule", "stroke": "black", "strokeWidth": 1.5, "strokeDash": [1.5, 3]}, "encoding": {"x": {"datum": 0, "axis": null}, "x2": {"datum": 198}, "y": {"datum": 0, "axis": null}}},
 {"data": {"values": [{}]}, "mark": {"type": "rule", "stroke": "black", "strokeWidth": 5}, "encoding": {"x": {"datum": 0, "axis": null}, "x2": {"datum": 50}, "y": {"datum": -106.2, "axis": null}}},
 {"data": {"values": [{}]}, "mark": {"type": "text", "text": "50 ms", "fontSize": 19, "align": "center", "baseline": "alphabetic"}, "encoding": {"x": {"datum": 23.1, "axis": null}, "y": {"datum": -116.3, "axis": null}}},
 {"data": {"values": [{}]}, "mark": {"type": "text", "text": "D", "fontSize": 38, "align": "center", "baseline": "alphabetic"}, "encoding": {"x": {"datum": -11.5, "axis": null}, "y": {"datum": 7.36, "axis": null}}}
]},
{"data": {"name": "dinset"}, "mark": {"type": "line", "interpolate": "monotone", "stroke": "black", "strokeWidth": 2, "strokeJoin": "round"},
  "encoding": {"x": {"field": "t", "type": "quantitative", "scale": {"domain": [0, 202.8], "range": [729, 1023], "nice": false, "zero": false},
     "axis": {"orient": "bottom", "offset": -139.5, "values": [0,20,40,60,80,100,120,140,160,180,200], "labelExpr": "datum.value % 100 === 0 ? '' + datum.value : ''", "tickSize": {"condition": {"test": "datum.value % 100 === 0", "value": 12}, "value": 8}, "tickWidth": 1.8, "domainWidth": 1.8, "labelFontSize": 21, "labelPadding": 12, "labelOverlap": false, "labelFlush": false, "title": "Time (ms)", "titleFontSize": 21, "titleFontWeight": "normal", "titlePadding": 21}},
   "y": {"field": "I", "type": "quantitative", "scale": {"domain": [-5, 0], "range": [685, 544], "nice": false, "zero": false},
     "axis": {"orient": "left", "offset": -713, "values": [0,-1,-2,-3,-4,-5], "labelExpr": "datum.value === 0 ? '0' : (datum.value === -5 ? '5' : '')", "tickSize": {"condition": {"test": "datum.value === 0 || datum.value === -5", "value": 11}, "value": 7}, "tickWidth": 1.8, "domainWidth": 1.8, "labelFontSize": 21, "labelPadding": 10, "labelOverlap": false, "title": null}},
   "detail": {"field": "seg", "type": "nominal"}}},
{"layer": [
 {"data": {"values": [{}]}, "mark": {"type": "rule", "stroke": "black", "strokeWidth": 1.5, "strokeDash": [1.5, 3]}, "encoding": {"x": {"datum": 2.76, "scale": {"domain": [0, 202.8], "range": [729, 1023], "nice": false, "zero": false}, "axis": null}, "x2": {"datum": 202.8}, "y": {"datum": 0, "scale": {"domain": [-5, 0], "range": [685, 544], "nice": false, "zero": false}, "axis": null}}},
 {"data": {"values": [{}]}, "mark": {"type": "text", "text": "WT", "fontSize": 19, "align": "center", "baseline": "middle"}, "encoding": {"x": {"datum": 140, "axis": null}, "y": {"datum": -1.03, "axis": null}}},
 {"data": {"values": [{}]}, "mark": {"type": "text", "text": "G1631D", "fontSize": 19, "align": "center", "baseline": "middle"}, "encoding": {"x": {"datum": 153.8, "axis": null}, "y": {"datum": -2.62, "axis": null}}},
 {"data": {"values": [{}]}, "mark": {"type": "text", "text": "Normalized I", "fontSize": 21, "align": "center", "baseline": "middle", "angle": 270}, "encoding": {"x": {"datum": -57.2, "axis": null}, "y": {"datum": -3.99, "axis": null}}},
 {"data": {"values": [{}]}, "mark": {"type": "text", "text": "Na", "fontSize": 13, "align": "center", "baseline": "middle", "angle": 270}, "encoding": {"x": {"datum": -46.2, "axis": null}, "y": {"datum": -1.28, "axis": null}}},
 {"data": {"values": [{}]}, "mark": {"type": "text", "text": "(%)", "fontSize": 21, "align": "center", "baseline": "middle", "angle": 270}, "encoding": {"x": {"datum": -57.2, "axis": null}, "y": {"datum": -0.3, "axis": null}}}
]}
]
}
